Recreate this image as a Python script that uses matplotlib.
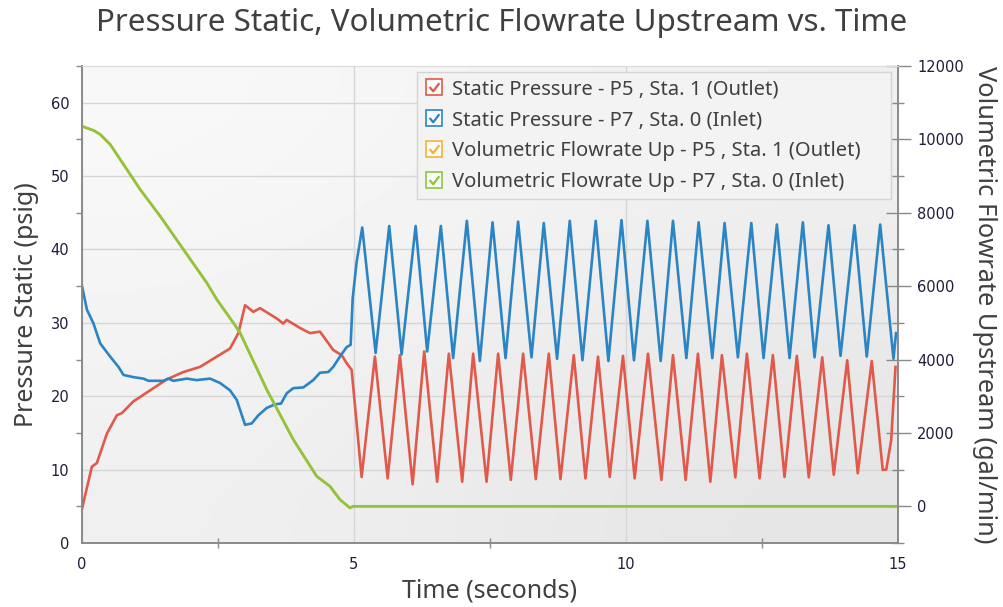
import numpy as np
import matplotlib
matplotlib.use("Agg")
import matplotlib.pyplot as plt
from matplotlib.lines import Line2D
from matplotlib.legend_handler import HandlerTuple
from matplotlib.ticker import MultipleLocator
from matplotlib.patches import Rectangle
from matplotlib.path import Path

# ---- data ----
# Static pressure P5 (outlet), psig
p5_early_t = [0.0, 0.187, 0.279, 0.463, 0.646, 0.738, 0.951, 1.258, 1.565, 1.870, 2.176, 2.483,
              2.727, 2.880, 3.003, 3.155, 3.278, 3.585, 3.706, 3.769, 4.013, 4.197, 4.380,
              4.624, 4.779, 4.871, 4.962]
p5_early_v = [4.5, 10.4, 10.9, 14.9, 17.4, 17.7, 19.3, 20.8, 22.3, 23.3, 24.0, 25.4,
              26.5, 28.6, 32.4, 31.5, 32.0, 30.6, 29.9, 30.4, 29.3, 28.6, 28.8,
              26.3, 25.6, 24.5, 23.6]
p5_peak_t = [5.390, 5.849, 6.296, 6.749, 7.196, 7.655, 8.114, 8.586, 9.045, 9.491, 9.950,
             10.410, 10.869, 11.328, 11.769, 12.228, 12.705, 13.146, 13.613, 14.072, 14.523]
p5_peak_v = [25.4, 25.6, 26.1, 25.8, 25.8, 25.8, 25.8, 25.8, 25.6, 25.4, 25.5,
             25.8, 25.6, 25.8, 25.6, 25.8, 25.6, 25.5, 25.3, 24.9, 24.8]
p5_trough_t = [5.146, 5.624, 6.083, 6.534, 6.994, 7.442, 7.888, 8.347, 8.801, 9.260, 9.706,
               10.165, 10.656, 11.102, 11.556, 12.015, 12.461, 12.920, 13.366, 13.825,
               14.266, 14.725]
p5_trough_v = [9.0, 8.8, 8.0, 8.35, 8.35, 8.35, 8.6, 8.7, 8.7, 8.8, 9.0,
               8.8, 8.6, 8.6, 8.35, 8.95, 8.8, 9.0, 8.95, 9.3, 9.5, 9.95]
p5_end_t = [14.79, 14.88, 14.96]
p5_end_v = [10.0, 14.0, 24.0]

# Static pressure P7 (inlet), psig
p7_early_t = [0.0, 0.096, 0.217, 0.340, 0.523, 0.676, 0.768, 0.951, 1.135, 1.227, 1.502, 1.594,
              1.686, 1.932, 2.116, 2.360, 2.544, 2.727, 2.850, 3.003, 3.126, 3.247, 3.401,
              3.554, 3.664, 3.769, 3.890, 4.074, 4.257, 4.380, 4.533, 4.624, 4.747, 4.871,
              4.944, 4.981, 5.054]
p7_early_v = [35.2, 31.8, 29.9, 27.2, 25.4, 24.0, 22.9, 22.6, 22.4, 22.1, 22.1, 22.4,
              22.1, 22.4, 22.2, 22.4, 21.8, 20.8, 19.5, 16.1, 16.3, 17.4, 18.4,
              18.9, 19.0, 20.4, 21.1, 21.2, 22.2, 23.2, 23.3, 24.0, 25.4, 26.7,
              27.0, 33.3, 38.3]
p7_peak_t = [5.157, 5.653, 6.138, 6.602, 7.080, 7.552, 8.022, 8.494, 8.972, 9.449, 9.923,
             10.399, 10.869, 11.341, 11.818, 12.309, 12.779, 13.256, 13.728, 14.206, 14.678]
p7_peak_v = [43.0, 43.2, 43.2, 43.2, 43.9, 43.7, 43.8, 43.6, 43.9, 43.9, 44.0,
             43.9, 43.9, 43.7, 43.6, 43.6, 43.4, 43.7, 43.3, 43.3, 43.4]
p7_trough_t = [5.403, 5.881, 6.351, 6.828, 7.319, 7.791, 8.268, 8.738, 9.205, 9.682, 10.152,
               10.643, 11.115, 11.592, 12.062, 12.534, 13.012, 13.471, 13.949, 14.431, 14.922]
p7_trough_v = [25.9, 25.7, 26.1, 25.2, 24.8, 25.2, 25.3, 25.1, 24.9, 24.8, 24.9,
               24.8, 25.2, 25.2, 25.3, 25.2, 25.2, 25.3, 25.5, 25.4, 25.1]
p7_end_t = [14.97]
p7_end_v = [28.6]

# Volumetric flowrate upstream, gal/min (P5 and P7 lie on top of each other)
flow_t = [0.0, 0.217, 0.340, 0.523, 0.646, 0.830, 1.074, 1.442, 1.870, 2.299, 2.483, 2.788,
          2.911, 3.401, 3.890, 4.320, 4.563, 4.747, 4.931, 4.992, 7.5, 10.0, 12.5, 15.0]
flow_v = [10360, 10245, 10136, 9864, 9591, 9182, 8637, 7908, 7000, 6092, 5637, 5001,
          4729, 3182, 1819, 818, 545, 183, -44, 0, 0, 0, 0, 0]

labels = ["Static Pressure - P5 , Sta. 1 (Outlet)",
          "Static Pressure - P7 , Sta. 0 (Inlet)",
          "Volumetric Flowrate Up - P5 , Sta. 1 (Outlet)",
          "Volumetric Flowrate Up - P7 , Sta. 0 (Inlet)"]
colors = ["#e1594a", "#2b84c4", "#f5b335", "#8cc63e"]


def merge(*parts):
    t = np.concatenate([np.asarray(p[0], float) for p in parts])
    v = np.concatenate([np.asarray(p[1], float) for p in parts])
    order = np.argsort(t)
    return t[order], v[order]


p5_t, p5_v = merge((p5_early_t, p5_early_v), (p5_peak_t, p5_peak_v),
                   (p5_trough_t, p5_trough_v), (p5_end_t, p5_end_v))
p7_t, p7_v = merge((p7_early_t, p7_early_v), (p7_peak_t, p7_peak_v),
                   (p7_trough_t, p7_trough_v), (p7_end_t, p7_end_v))

txt = "#404040"
tickc = "#1e1e3a"
spc = "#8a8a8a"

fig = plt.figure(figsize=(10.04, 6.07), dpi=100)
ax = fig.add_axes([81.7 / 1004, 1 - 543 / 607, (897.7 - 81.7) / 1004, (543 - 66) / 607])
ax2 = ax.twinx()

# gradient background
grad = np.array([[0.975, 0.94], [0.94, 0.895]])
ax.imshow(grad, cmap="gray", vmin=0, vmax=1, extent=[0, 1, 0, 1], transform=ax.transAxes,
          aspect="auto", interpolation="bicubic", zorder=0)

ax.plot(p5_t, p5_v, color=colors[0], lw=1.9, zorder=3)
ax.plot(p7_t, p7_v, color=colors[1], lw=1.9, zorder=3)
ax2.plot(flow_t, flow_v, color=colors[2], lw=1.9)
ax2.plot(flow_t, flow_v, color=colors[3], lw=1.9)

ax.set_xlim(0, 15)
ax.set_ylim(0, 65)
ax2.set_ylim(-1000, 12000)

ax.set_xticks([0, 5, 10, 15])
ax.xaxis.set_minor_locator(MultipleLocator(2.5))
ax.set_yticks([0, 10, 20, 30, 40, 50, 60])
ax.yaxis.set_minor_locator(MultipleLocator(5))
ax2.set_yticks(range(0, 12001, 2000))
ax2.yaxis.set_minor_locator(MultipleLocator(1000))

ax.grid(True, which="major", color="#d6d6d6", lw=1.0, zorder=1)
ax.set_axisbelow(True)

ax.tick_params(axis="y", which="major", length=0, pad=9, labelsize=10.5, labelcolor=tickc)
ax.tick_params(axis="y", which="minor", length=4, width=1, color=spc, direction="out")
ax.tick_params(axis="x", which="major", length=0, pad=10, labelsize=10.5, labelcolor=tickc)
ax.tick_params(axis="x", which="minor", length=7, width=1, color=spc, direction="inout")
ax2.tick_params(axis="y", which="major", length=18, width=1, color=spc, direction="inout",
                pad=5, labelsize=10.5, labelcolor=tickc)
ax2.tick_params(axis="y", which="minor", length=9, width=1, color=spc, direction="inout")

for a in (ax, ax2):
    for side in ("left", "bottom", "right"):
        a.spines[side].set_color(spc)
        a.spines[side].set_linewidth(1.2)
    a.spines["top"].set_color("#dcdcdc")

fig.text(0.5, 1 - 23 / 607, "Pressure Static, Volumetric Flowrate Upstream vs. Time",
         ha="center", va="center", fontsize=22.5, color=txt, family="Noto Sans")
ax.set_xlabel("Time (seconds)", fontsize=18, color=txt, family="Noto Sans", labelpad=5)
ax.set_ylabel("Pressure Static (psig)", fontsize=18, color=txt, family="Noto Sans", labelpad=8)
ax2.set_ylabel("Volumetric Flowrate Upstream (gal/min)", fontsize=18.3, color=txt,
               family="Noto Sans", rotation=270, labelpad=24)

# legend box drawn as its own panel, legend entries placed inside it
fig.patches.append(Rectangle((417 / 1004, 1 - 199 / 607), (891 - 417) / 1004, (199 - 72) / 607,
                             transform=fig.transFigure, facecolor="#f3f3f3",
                             edgecolor="#d4d4d4", lw=1.0, zorder=5))

check = Path([(-0.45, 0.05), (-0.12, -0.35), (0.45, 0.4)],
             [Path.MOVETO, Path.LINETO, Path.LINETO])
handles = []
for c in colors:
    box = Line2D([], [], marker="s", ms=12, mfc="#fbfbfb", mec=c, mew=1.2, ls="none")
    chk = Line2D([], [], marker=check, ms=7, mfc="none", mec=c, mew=1.6, ls="none")
    handles.append((box, chk))
leg = fig.legend(handles, labels, handler_map={tuple: HandlerTuple(ndivide=1)},
                 loc="upper left", bbox_to_anchor=(423 / 1004, 1 - 79.5 / 607),
                 borderaxespad=0, frameon=False, handlelength=1.1,
                 handletextpad=0.35, labelspacing=0.54, borderpad=0,
                 prop={"family": "Noto Sans", "size": 14.5})
leg.set_zorder(6)
for t in leg.get_texts():
    t.set_color(txt)

fig.savefig("out.png", dpi=100)
